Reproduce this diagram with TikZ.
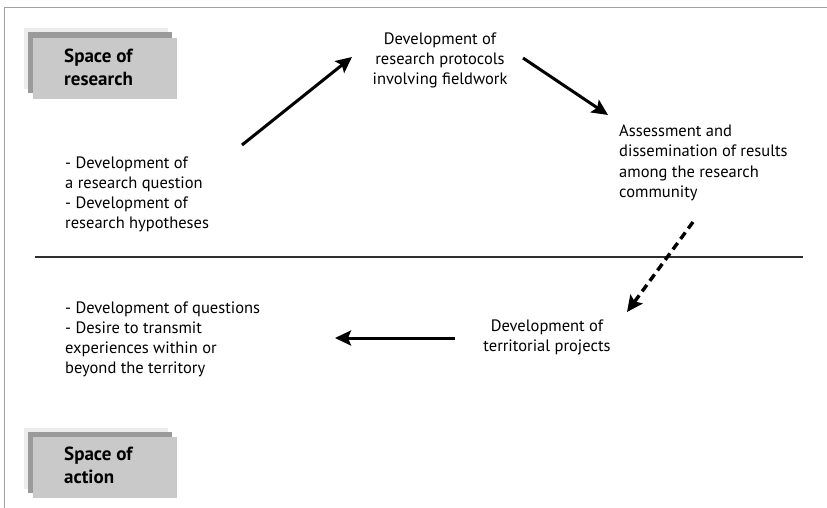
\documentclass[tikz,border=0pt]{standalone}
\usepackage{fontspec}
\setmainfont{PT Sans}
\usetikzlibrary{arrows.meta}
\definecolor{framegray}{HTML}{A0A0A0}
\definecolor{boxlight}{HTML}{C9C9C9}
\definecolor{boxdark}{HTML}{9A9A9A}
\definecolor{boxhalo}{HTML}{EDEDED}
\definecolor{sepline}{HTML}{2E2E2E}
\tikzset{
  txt/.style={inner sep=0pt, font=\fontsize{16.5}{20}\selectfont},
  lbl/.style={inner sep=0pt, font=\fontsize{19}{23}\selectfont\bfseries},
  flow/.style={line width=3pt, -{Stealth[length=16pt,width=15pt,inset=3pt]}},
  dflow/.style={flow, line width=3.4pt, dash pattern=on 8pt off 5pt},
}
\newcommand{\ltab}[1]{\begin{tabular}[t]{@{}l@{}}#1\end{tabular}}
\newcommand{\ctab}[1]{\begin{tabular}[t]{@{}c@{}}#1\end{tabular}}
\begin{document}
\begin{tikzpicture}[x=1pt,y=-1pt]
\useasboundingbox (0,0) rectangle (827,508);
% frame
\draw[framegray, line width=1.6pt] (4.5,508) -- (4.5,7.5) -- (827,7.5);
% separator
\draw[sepline, line width=2.6pt] (35,257) -- (803,257);
% label boxes
\fill[boxhalo] (24,28) rectangle (168,89);
\fill[boxdark] (28,32) rectangle (172,93);
\fill[boxlight] (33,38) rectangle (177,99);
\node[lbl, anchor=base west] (research) at (64,63) {\ltab{Space of\\research}};
\fill[boxhalo] (24,428) rectangle (168,489);
\fill[boxdark] (28,432) rectangle (172,493);
\fill[boxlight] (33,437) rectangle (177,498);
\node[lbl, anchor=base west] (action) at (64,460) {\ltab{Space of\\action}};
% texts
\node[txt, anchor=base west] (q) at (65,168) {\ltab{- Development of\\a research question\\- Development of\\research hypotheses}};
\node[txt, anchor=base] (proto) at (440,45) {\ctab{Development of\\research protocols\\involving fieldwork}};
\node[txt, anchor=base west] (assess) at (619,137) {\ltab{Assessment and\\dissemination of results\\among the research\\community}};
\node[txt, anchor=base] (terr) at (547,331) {\ctab{Development of\\territorial projects}};
\node[txt, anchor=base west] (quest) at (65,313) {\ltab{- Development of questions\\- Desire to transmit\\experiences within or\\beyond the territory}};
% arrow end points
\coordinate (a1s) at (242,145);
\coordinate (a1e) at (352,57);
\coordinate (a2s) at (523,58);
\coordinate (a2e) at (608,115);
\coordinate (a3s) at (693,222);
\coordinate (a3e) at (627,312);
\coordinate (a4s) at (455,338);
\coordinate (a4e) at (335,338);
\draw[flow] (a1s) -- (a1e);
\draw[flow] (a2s) -- (a2e);
\draw[dflow] (a3s) -- (a3e);
\draw[flow] (a4s) -- (a4e);
\end{tikzpicture}
\end{document}
